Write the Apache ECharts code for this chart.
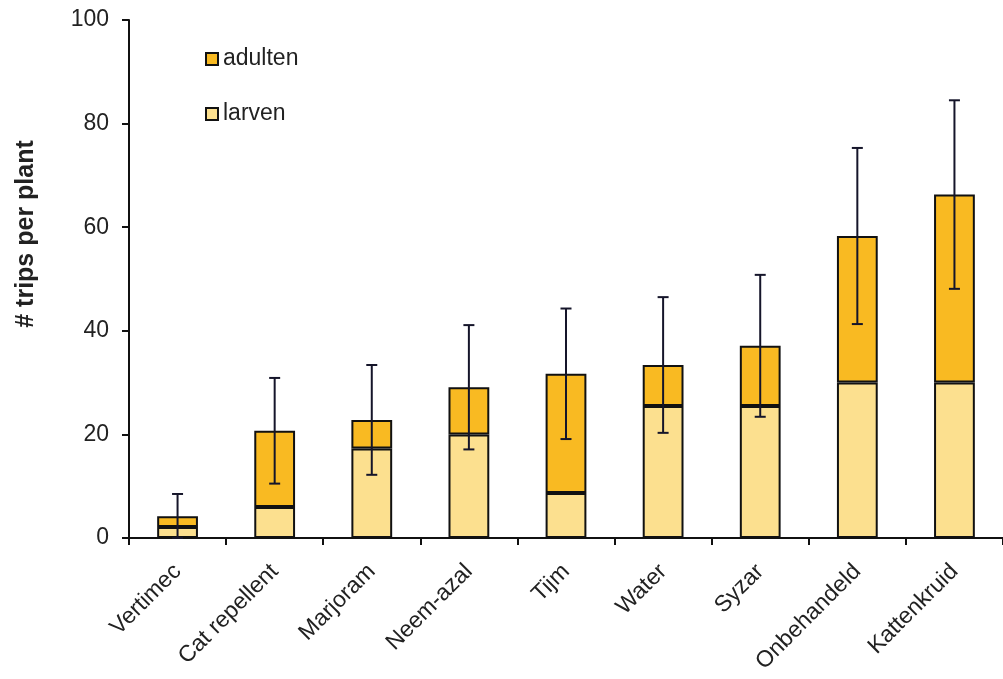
<!DOCTYPE html>
<html>
<head>
<meta charset="utf-8">
<script src="https://cdn.jsdelivr.net/npm/echarts@6/dist/echarts.min.js"></script>
<style>
  html, body { margin: 0; padding: 0; background: #ffffff; }
  #chart { width: 1003px; height: 679px; }
</style>
</head>
<body>
<div id="chart"></div>
<script>
// Treatments on the x axis
const categories = ['Vertimec', 'Cat repellent', 'Marjoram', 'Neem-azal', 'Tijm', 'Water', 'Syzar', 'Onbehandeld', 'Kattenkruid'];
// Mean number of thrips per plant, split by life stage
const larven  = [2.1, 6.0, 17.3, 20.0, 8.7, 25.5, 25.5, 30.0, 30.0];
const adulten = [2.1, 14.7, 5.5, 9.1, 23.0, 7.9, 11.6, 28.3, 36.3];
// Standard error of the total count
const errors  = [4.3, 10.2, 10.6, 12.0, 12.6, 13.1, 13.7, 17.0, 18.2];
// Y axis ticks
const yTicks = [0, 20, 40, 60, 80, 100];

const totals = larven.map((v, i) => v + adulten[i]);
const errorData = totals.map((t, i) => [i, Math.max(0, t - errors[i]), t + errors[i]]);

const ink = '#111111';
const textColor = '#222222';
const font = '"Liberation Sans", Arial, sans-serif';

const chart = echarts.init(document.getElementById('chart'), null, { renderer: 'canvas' });

chart.setOption({
  animation: false,
  backgroundColor: '#ffffff',
  grid: { left: 129, top: 20, width: 880, height: 518, containLabel: false },
  legend: {
    data: ['adulten', 'larven'],
    orient: 'vertical',
    left: 200,
    top: 42,
    itemWidth: 12,
    itemHeight: 12,
    itemGap: 31,
    icon: 'rect',
    textStyle: { fontFamily: font, fontSize: 23, lineHeight: 24, color: textColor, padding: [0, 0, 0, 0] }
  },
  xAxis: {
    type: 'category',
    data: categories,
    axisLine: { lineStyle: { color: ink, width: 2 } },
    axisTick: { show: true, length: 7, lineStyle: { color: ink, width: 2 } },
    axisLabel: {
      rotate: 45,
      margin: 30,
      fontFamily: font,
      fontSize: 23,
      color: textColor
    }
  },
  yAxis: {
    type: 'value',
    min: yTicks[0],
    max: yTicks[yTicks.length - 1],
    interval: 20,
    axisLine: { show: true, lineStyle: { color: ink, width: 2 } },
    axisTick: { show: true, length: 7, lineStyle: { color: ink, width: 2 } },
    splitLine: { show: false },
    axisLabel: { fontFamily: font, fontSize: 23, color: textColor, margin: 20 }
  },
  graphic: [{
    type: 'text',
    x: 26,
    y: 234,
    rotation: Math.PI / 2,
    style: {
      text: '# trips per plant',
      fontFamily: font,
      fontWeight: 'bold',
      fontSize: 25,
      fill: textColor,
      align: 'center',
      verticalAlign: 'middle'
    }
  }],
  series: [
    {
      name: 'larven',
      type: 'bar',
      stack: 'total',
      data: larven,
      barWidth: '42%',
      itemStyle: { color: '#FCE08F', borderColor: ink, borderWidth: 2 }
    },
    {
      name: 'adulten',
      type: 'bar',
      stack: 'total',
      data: adulten,
      barWidth: '42%',
      itemStyle: { color: '#F9BA22', borderColor: ink, borderWidth: 2 }
    },
    {
      name: 'error',
      type: 'custom',
      z: 10,
      data: errorData,
      encode: { x: 0, y: [1, 2] },
      renderItem: function (params, api) {
        const idx = api.value(0);
        const low = api.coord([idx, api.value(1)]);
        const high = api.coord([idx, api.value(2)]);
        const half = 5.5;
        const style = { stroke: '#15152a', lineWidth: 2 };
        return {
          type: 'group',
          children: [
            { type: 'line', shape: { x1: high[0], y1: high[1], x2: low[0], y2: low[1] }, style: style },
            { type: 'line', shape: { x1: high[0] - half, y1: high[1], x2: high[0] + half, y2: high[1] }, style: style },
            { type: 'line', shape: { x1: low[0] - half, y1: low[1], x2: low[0] + half, y2: low[1] }, style: style }
          ]
        };
      }
    }
  ]
});
</script>
</body>
</html>
